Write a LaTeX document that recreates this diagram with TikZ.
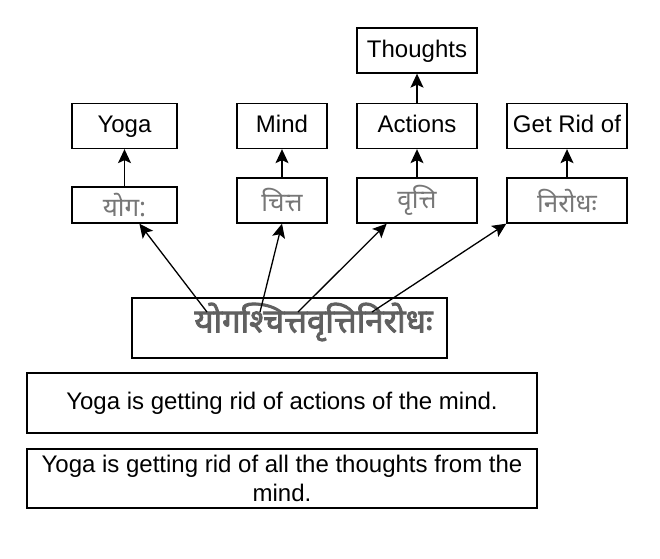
\documentclass[tikz,border=0pt]{standalone}
\usepackage{fontspec}
\setmainfont{Liberation Sans}
\newfontfamily\devfont[Script=Devanagari]{Noto Sans}
\newfontfamily\devboldfont[Script=Devanagari,FakeBold=2.5]{Noto Sans}
\usetikzlibrary{arrows.meta,calc}
\definecolor{sanskrit}{HTML}{606060}
\definecolor{wordgray}{HTML}{777777}
\begin{document}
\begin{tikzpicture}[x=1pt, y=-1pt,
  box/.style={draw, line width=1.3pt, inner sep=0pt, minimum height=45pt,
    font=\fontsize{24}{28.5}\selectfont},
  engbox/.style={box, text height=17.5pt, text depth=4pt},
  devbox/.style={box, text=wordgray, font=\devfont\fontsize{26}{30}\selectfont},
  arr/.style={-{Stealth[length=14pt,width=13pt,inset=3pt]}, line width=1.3pt}]
  \useasboundingbox (0,0) rectangle (660,558);
  % Meanings
  \node[engbox, minimum width=120pt] (thoughts) at (417,50.5) {Thoughts};
  \node[engbox, minimum width=105pt] (yoga) at (124.5,126) {Yoga};
  \node[engbox, minimum width=90pt] (mind) at (282,126) {Mind};
  \node[engbox, minimum width=120pt] (actions) at (417,126) {Actions};
  \node[engbox, minimum width=120pt] (getrid) at (567,126) {Get Rid of};
  % Words
  \node[devbox, minimum width=105pt, minimum height=36pt] (yogaw) at (124.5,205) {योग:};
  \node[devbox, minimum width=90pt] (chitta) at (282,200.5) {चित्त};
  \node[devbox, minimum width=120pt] (vritti) at (417,200.5) {वृत्ति};
  \node[devbox, minimum width=120pt] (nirodha) at (567,200.5) {निरोधः};
  % Sutra
  \node[box, minimum width=315pt, minimum height=60pt] (sutra) at (289.5,328) {};
  \node[text=sanskrit, inner sep=0pt, font=\devboldfont\fontsize{33}{37}\selectfont]
    (sutratext) at (313.5,322) {योगश्चित्तवृत्तिनिरोधः};
  \coordinate (yo) at (207,312);
  \coordinate (ci) at (260,312);
  \coordinate (vr) at (298,312);
  \coordinate (ni) at (372,312);
  % Translations
  \node[engbox, minimum width=510pt, minimum height=60pt] (trans) at (282,403)
    {Yoga is getting rid of actions of the mind.};
  \node[box, minimum width=510pt, minimum height=59pt, align=center] (transb)
    at (282,478.5) {Yoga is getting rid of all the thoughts from the\\mind.};
  % Arrows
  \draw[arr] (yogaw) -- (yoga);
  \draw[arr] (chitta) -- (mind);
  \draw[arr] (vritti) -- (actions);
  \draw[arr] (actions) -- (thoughts);
  \draw[arr] (nirodha) -- (getrid);
  \draw[arr] (yo) -- ($(yogaw.south west)!0.64!(yogaw.south east)$);
  \draw[arr] (ci) -- (chitta.south);
  \draw[arr] (vr) -- ($(vritti.south west)!0.25!(vritti.south east)$);
  \draw[arr] (ni) -- (nirodha.south west);
\end{tikzpicture}
\end{document}
